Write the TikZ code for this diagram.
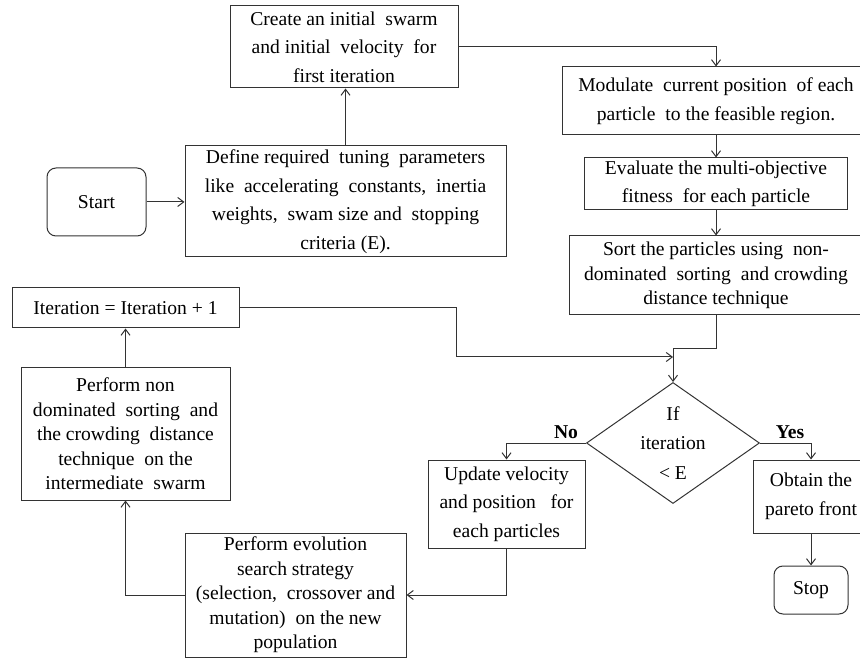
\documentclass[tikz,border=0pt]{standalone}
\usepackage{fontspec}
\setmainfont{Liberation Serif}
\usepackage{tikz}
\usetikzlibrary{shapes.geometric}
\usetikzlibrary{arrows.meta}
\tikzstyle{box}=[rectangle, draw=black!80, line width=1pt, inner sep=0pt, align=center, font=\fontsize{19.6}{28.5}\selectfont]
\tikzstyle{tight}=[font=\fontsize{19.6}{24.5}\selectfont]
\tikzstyle{term}=[box, rounded corners=9pt]
\tikzstyle{decision}=[diamond, draw=black!80, line width=1pt, inner sep=0pt]
\tikzstyle{arr}=[draw=black!80, line width=1pt, -{Straight Barb[length=6pt,width=9pt]}]
\tikzstyle{lbl}=[font=\fontsize{19.6}{24}\selectfont\bfseries]

\begin{document}
\begin{tikzpicture}[x=1pt, y=-1pt]
        \useasboundingbox (0,0) rectangle (860,660);
        % set-up
        \node[term, minimum width=99pt, minimum height=68pt] (start) at (96.5,202) {Start};
        \node[box, minimum width=321pt, minimum height=111pt] (define) at (345.5,201.5) {Define required\ \ tuning\ \ parameters\\like\ \ accelerating\ \ constants,\ \ inertia\\weights,\ \ swam size and\ \ stopping\\criteria (E).};
        \node[box, minimum width=228pt, minimum height=82pt] (create) at (344,47) {Create an initial\ \ swarm\\and initial\ \ velocity\ \ for\\first iteration};
        \draw[arr] (start.east) -- (start.east -| define.west);
        \draw[arr] (define.north) -- (define.north |- create.south);

        % right column
        \node[box, minimum width=308pt, minimum height=68pt] (modulate) at (716,101) {Modulate\ \ current position\ \ of each\\particle\ \ to the feasible region.};
        \node[box, minimum width=263pt, minimum height=52pt] (evaluate) at (716,184) {Evaluate the multi-objective\\fitness\ \ for each particle};
        \node[box, tight, minimum width=294pt, minimum height=79pt] (sort) at (716,275.5) {Sort the particles using\ \ non-\\dominated\ \ sorting\ \ and crowding\\distance technique};
        \draw[arr] (create.east) -| (evaluate.north |- modulate.north);
        \draw[arr] (evaluate.north |- modulate.south) -- (evaluate.north);
        \draw[arr] (evaluate.south) -- (evaluate.south |- sort.north);

        % test
        \node[decision, minimum width=173pt, minimum height=121pt,
              label={[align=center, font=\fontsize{19.6}{29.5}\selectfont]center:If\\iteration\\\textless\ E}] (dec) at (673,443) {};
        \coordinate (merge) at (673,357);
        \draw[arr] (evaluate.south |- sort.south) -- ++(0,33) -| (dec.north);
        \node[lbl] (no) at (566,432) {No};
        \node[lbl] (yes) at (790,432) {Yes};

        % yes branch
        \node[box, minimum width=116pt, minimum height=73pt] (obtain) at (811,496.5) {Obtain the\\pareto front};
        \node[term, minimum width=74pt, minimum height=48pt] (stop) at (811,590) {Stop};
        \draw[arr] (dec.east) -| (obtain.north);
        \draw[arr] (obtain.south) -- (stop.north);

        % no branch
        \node[box, minimum width=157pt, minimum height=88pt] (update) at (506.5,504) {Update velocity\\and position\ \ \ for\\each particles};
        \node[box, tight, minimum width=221pt, minimum height=124pt] (evol) at (295.5,595) {Perform evolution\\search strategy\\(selection,\ \ crossover and\\mutation)\ \ on the new\\population};
        \node[box, tight, minimum width=209pt, minimum height=132pt] (perfnon) at (125.5,434) {Perform non\\dominated\ \ sorting\ \ and\\the crowding\ \ distance\\technique\ \ on the\\intermediate\ \ swarm};
        \node[box, minimum width=227pt, minimum height=40pt] (iter) at (125.5,308) {Iteration = Iteration + 1};
        \draw[arr] (dec.west) -| (update.north);
        \draw[arr] (update.south) |- (evol.east);
        \draw[arr] (evol.west) -| (perfnon.south);
        \draw[arr] (perfnon.north) -- (iter.south);
        \draw[arr] (iter.east) -| (456,357) -- (merge);
\end{tikzpicture}
\end{document}
